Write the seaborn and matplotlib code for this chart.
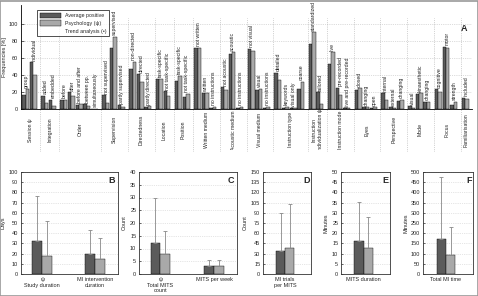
import numpy as np
import pandas as pd
import seaborn as sns
import matplotlib.pyplot as plt
from matplotlib.patches import Patch, Rectangle
from matplotlib.transforms import Bbox, TransformedBbox, blended_transform_factory

# ---- panel A data ----
groups = ["Session ψ", "Integration", "Order", "Supervision", "Directedness", "Location",
          "Position", "Written medium", "Acoustic medium", "Visual medium", "Instruction type",
          "Instruction\nindividualization ψ", "Instruction mode", "Eyes", "Perspective", "Mode",
          "Focus", "Familiarisation"]
group_sizes = [2, 2, 5, 3, 3, 2, 2, 3, 3, 3, 4, 2, 3, 3, 3, 3, 3, 1]
cat_labels = ["group", "individual",
              "added", "embedded",
              "before", "after", "before and after", "between pp.", "simultaneously",
              "not supervised", "supervised", "partly supervised",
              "non-directed", "directed", "partly directed",
              "task-specific", "not task-specific",
              "task-specific", "not task-specific",
              "not written", "written", "no instructions",
              "not acoustic", "acoustic", "no instructions",
              "not visual", "visual", "no instructions",
              "detailed", "keywords", "visual only", "coarse",
              "standardized", "tailored",
              "live", "pre-recorded", "live and pre-recorded",
              "closed", "changing", "open",
              "internal", "external", "changing",
              "visual", "kinaesthetic", "changing",
              "cognitive", "motor", "strength",
              "included"]
avg_pos = [16.4, 55, 15.6, 11, 11, 20, 4.7, 5.5, 0.5, 16.4, 72, 4.7, 47, 41, 2,
           35.5, 20.7, 33, 14.5, 72, 19, 1, 26, 64, 1.5, 70.7, 22, 1,
           42.6, 1.5, 1, 23.4, 76.5, 19.5, 53, 25, 1, 22.6, 2.3, 1.5,
           18.8, 2.3, 9.4, 3, 18, 7.8, 23, 73, 4.7, 13.3]
psych = [23.4, 40, 7, 4, 11, 15.6, 5.5, 4, 0, 7, 85, 2, 55.5, 32, 3,
         35.5, 15.2, 39, 18, 71.5, 19, 2.7, 22, 67, 2.7, 67.6, 24, 2.7,
         34, 2.7, 1, 32, 90, 6, 67, 16.8, 1, 24.6, 2.3, 2.3,
         11, 1, 11, 1.5, 18.8, 8.6, 20, 72, 8.6, 11.3]

series = ["Average positive", "Psychology (ψ)"]

# ---- panels B-F data (mean, sd) ----
b_cats = ["ψ\nStudy duration", "MI intervention\nduration"]
b_avg, b_avg_sd = [32, 20], [44, 23]
b_psy, b_psy_sd = [18, 15], [34, 20]
c_cats = ["ψ\nTotal MITS\ncount", "MITS per week"]
c_avg, c_avg_sd = [12.3, 3.0], [17.7, 2.5]
c_psy, c_psy_sd = [7.7, 3.0], [9.3, 2.5]
d_cats = ["MI trials\nper MITS"]
d_avg, d_avg_sd = [33.8], [56]
d_psy, d_psy_sd = [37.8], [64.7]
e_cats = ["MITS duration"]
e_avg, e_avg_sd = [16.2], [19]
e_psy, e_psy_sd = [12.7], [15]
f_cats = ["Total MI time"]
f_avg, f_avg_sd = [170], [304]
f_psy, f_psy_sd = [92], [137]

dark = "#5b5b5b"
light = "#a9a9a9"
fs = 4
fs_lab = 3.7

sns.set_style("white")
plt.rcParams["font.family"] = ["Liberation Sans", "DejaVu Sans"]

fig = plt.figure(figsize=(4.78, 2.96), dpi=100)

# ---------------- panel A ----------------
axA = fig.add_axes([21 / 478, 1 - 109 / 296, 451 / 478, 104 / 296])
pos = []
seps = []
s = 0.0
for n in group_sizes:
    for i in range(n):
        pos.append(s + 0.6 + i)
    s = s + n + 0.5
    seps.append(s)
dfA = pd.DataFrame({"pos": pos * 2, "value": avg_pos + psych,
                    "series": [series[0]] * len(pos) + [series[1]] * len(pos)})
sns.barplot(data=dfA, x="pos", y="value", hue="series", native_scale=True, width=0.9,
            palette=[dark, light], edgecolor="black", linewidth=0.3, ax=axA, legend=False)
axA.set_xlim(0, s)
axA.set_ylim(0, 122)
axA.set_yticks(range(0, 101, 20))
axA.set_xticks([])
axA.set_xlabel("")
axA.set_ylabel("Frequencies [%]", fontsize=fs)
axA.yaxis.set_label_coords(-0.03, 0.5)
axA.tick_params(axis="y", labelsize=fs, direction="in", length=2, width=0.5, pad=2, left=True)
for y in range(20, 101, 20):
    axA.axhline(y, color="#bbbbbb", lw=0.5, ls=":", zorder=0)
for sp in ["top", "right"]:
    axA.spines[sp].set_visible(False)
for sp in ["left", "bottom"]:
    axA.spines[sp].set_linewidth(0.6)
    axA.spines[sp].set_color("black")

trans = blended_transform_factory(axA.transData, axA.transAxes)
for x in seps[:-1]:
    axA.plot([x, x], [-0.40, 0.875], transform=trans, color="#aaaaaa", lw=0.5, ls=":",
             clip_on=False, zorder=0)

for x, lab, a, p in zip(pos, cat_labels, avg_pos, psych):
    axA.text(x + 0.1, max(a, p) + 1.5, lab, rotation=90, ha="center", va="bottom",
             fontsize=fs_lab, color="#222222")

clip = TransformedBbox(Bbox([[-0.05, -0.395], [1.05, 1.0]]), axA.transAxes)
start = 0.0
for g, n in zip(groups, group_sizes):
    t = axA.text(start + (n + 0.5) / 2, -0.2, g, rotation=90, ha="center", va="center",
                 fontsize=fs_lab, color="#222222", transform=trans, multialignment="center")
    t.set_clip_box(clip)
    t.set_clip_on(True)
    start += n + 0.5

handles = [Patch(facecolor=dark, edgecolor="black", lw=0.3),
           Patch(facecolor=light, edgecolor="black", lw=0.3),
           Patch(facecolor="none", edgecolor="none")]
leg = axA.legend(handles, series + ["Trend analysis (•)"], loc="upper left",
                 bbox_to_anchor=(0.03, 0.975), fontsize=3.8, frameon=True, fancybox=False,
                 handlelength=4, handleheight=1.2, borderpad=0.5, labelspacing=0.4)
leg.get_frame().set_edgecolor("black")
leg.get_frame().set_linewidth(0.6)
axA.text(0.99, 0.77, "A", transform=axA.transAxes, fontsize=6.5, fontweight="bold",
         ha="right", va="center")


# ---------------- panels B-F ----------------
def small_panel(rect_px, cats, avg, avg_sd, psy, psy_sd, ylim, step, ylabel, lab_px, letter, xlim):
    left, width = rect_px
    ax = fig.add_axes([left / 478, 1 - 274 / 296, width / 478, 102 / 296])
    df = pd.DataFrame({"cat": cats * 2, "value": avg + psy,
                       "series": [series[0]] * len(cats) + [series[1]] * len(cats)})
    sns.barplot(data=df, x="cat", y="value", hue="series", width=0.37, palette=[dark, light],
                edgecolor="black", linewidth=0.3, ax=ax, legend=False)
    sds = avg_sd + psy_sd
    bars = [b for b in ax.patches if b.get_height() > 0]
    for b, sd in zip(bars, sds):
        xc = b.get_x() + b.get_width() / 2
        ax.errorbar(xc, b.get_height(), yerr=[[0], [sd]], color="#888888", lw=0.6,
                    capsize=1.6, capthick=0.6)
    ax.set_ylim(0, ylim)
    ax.set_yticks(np.arange(0, ylim + 0.1, step))
    ax.set_xlim(*xlim)
    ax.set_xlabel("")
    ax.set_ylabel(ylabel, fontsize=fs)
    ax.yaxis.set_label_coords((lab_px - left) / width, 0.5)
    ax.tick_params(axis="y", labelsize=fs, direction="in", length=1.5, width=0.5, pad=2, left=True)
    ax.tick_params(axis="x", labelsize=fs, length=0, pad=2)
    ax.yaxis.grid(True, color="#cccccc", lw=0.5, ls=":")
    ax.set_axisbelow(True)
    for sp in ax.spines.values():
        sp.set_visible(True)
        sp.set_color("#333333")
        sp.set_linewidth(0.6)
    ax.text(0.97, 0.965, letter, transform=ax.transAxes, fontsize=6.5, fontweight="bold",
            ha="right", va="top", bbox=dict(facecolor="white", edgecolor="none", pad=0.5))
    return ax


small_panel((21, 97), b_cats, b_avg, b_avg_sd, b_psy, b_psy_sd,
            100, 10, "Days", 5, "B", (-0.4, 1.43))
small_panel((139, 98), c_cats, c_avg, c_avg_sd, c_psy, c_psy_sd,
            40, 5, "Count", 127, "C", (-0.4, 1.43))
small_panel((263, 48), d_cats, d_avg, d_avg_sd, d_psy, d_psy_sd,
            150, 15, "Count", 248, "D", (-0.46, 0.54))
small_panel((341, 49), e_cats, e_avg, e_avg_sd, e_psy, e_psy_sd,
            50, 5, "Minutes", 329, "E", (-0.46, 0.54))
small_panel((423, 50), f_cats, f_avg, f_avg_sd, f_psy, f_psy_sd,
            500, 50, "Minutes", 408, "F", (-0.46, 0.54))

fig.patches.append(Rectangle((0.001, 0.001), 0.998, 0.997, transform=fig.transFigure,
                             fill=False, edgecolor="#999999", lw=1.2))

fig.savefig("out.png", dpi=100)
